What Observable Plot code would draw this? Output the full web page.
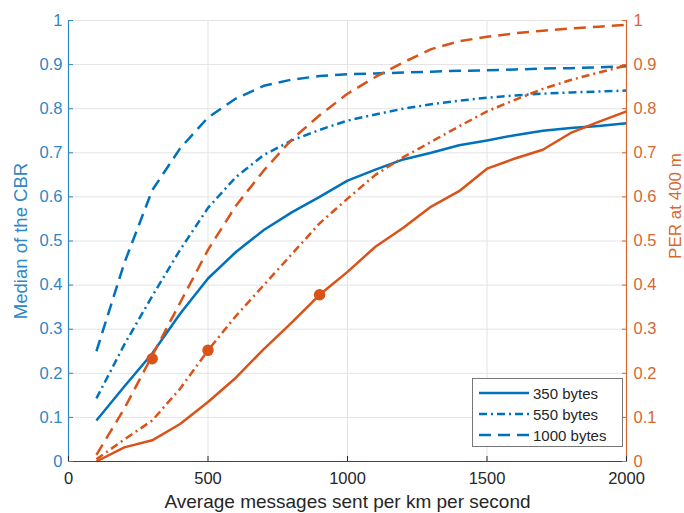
<!DOCTYPE html>
<html>
<head>
<meta charset="utf-8">
<script src="https://cdn.jsdelivr.net/npm/d3@7"></script>
<script src="https://cdn.jsdelivr.net/npm/@observablehq/plot@0.6"></script>
<style>
  html, body { margin: 0; padding: 0; background: #fff; }
  #wrap { position: relative; width: 684px; height: 513px; font-family: "Liberation Sans", Arial, sans-serif; }
  #legend { position: absolute; left: 472px; top: 378px; width: 151px; height: 69px; border: 1px solid #777; background: #fff; box-sizing: border-box; }
  #legend .row { position: absolute; left: 0; height: 20px; display: flex; align-items: center; }
  #legend .row span { font-size: 15px; color: #262626; margin-left: 4px; }
</style>
</head>
<body>
<div id="wrap"><div id="legend"></div></div>
<script>
// x values (messages / km / s)
const xValues = [100,200,300,400,500,600,700,800,900,1000,1100,1200,1300,1400,1500,1600,1700,1800,1900,2000];
// Median of the CBR (left axis)
const cbr350  = [0.093,0.17,0.245,0.335,0.415,0.475,0.525,0.565,0.60,0.637,0.662,0.685,0.70,0.717,0.728,0.74,0.75,0.756,0.761,0.767];
const cbr550  = [0.143,0.265,0.375,0.48,0.575,0.645,0.695,0.728,0.752,0.773,0.787,0.80,0.81,0.818,0.825,0.83,0.834,0.837,0.839,0.841];
const cbr1000 = [0.25,0.45,0.615,0.71,0.78,0.823,0.852,0.866,0.874,0.878,0.88,0.882,0.884,0.886,0.887,0.889,0.891,0.892,0.894,0.896];
// PER at 400 m (right axis)
const per350  = [0,0.032,0.048,0.085,0.135,0.19,0.255,0.315,0.378,0.43,0.487,0.53,0.578,0.613,0.664,0.687,0.707,0.745,0.77,0.794];
const per550  = [0.005,0.05,0.093,0.165,0.252,0.33,0.40,0.47,0.54,0.596,0.65,0.69,0.725,0.76,0.794,0.82,0.845,0.865,0.882,0.898];
const per1000 = [0.015,0.12,0.24,0.36,0.48,0.58,0.66,0.73,0.785,0.834,0.872,0.905,0.935,0.953,0.963,0.971,0.977,0.982,0.986,0.99];
// highlighted points
const markerX = [300,500,900];
const markerY = [0.233,0.252,0.378];
// ticks
const xTicks = [0,500,1000,1500,2000];
const yTicks = [0,0.1,0.2,0.3,0.4,0.5,0.6,0.7,0.8,0.9,1];
const legendLabels = ["350 bytes","550 bytes","1000 bytes"];

const BLUE = "#0072BD", ORANGE = "#D95319";
const BLUE_TXT = "#2f86c6", ORANGE_TXT = "#d8672f";
const DASH = {solid: null, dashdot: "8,4,2,4", dashed: "12,7"};

function toRows(vals) { return xValues.map((x, i) => ({x, y: vals[i]})); }
const series = [
  {vals: cbr350, color: BLUE, dash: DASH.solid},
  {vals: cbr550, color: BLUE, dash: DASH.dashdot},
  {vals: cbr1000, color: BLUE, dash: DASH.dashed},
  {vals: per350, color: ORANGE, dash: DASH.solid},
  {vals: per550, color: ORANGE, dash: DASH.dashdot},
  {vals: per1000, color: ORANGE, dash: DASH.dashed}
];
const markers = markerX.map((x, i) => ({x, y: markerY[i]}));
const font = "Liberation Sans, Arial, sans-serif";

const chart = Plot.plot({
  width: 684, height: 513,
  marginLeft: 68, marginRight: 58, marginTop: 20, marginBottom: 52,
  style: {fontFamily: font, fontSize: "16px", background: "#fff"},
  x: {domain: [0, 2000]},
  y: {domain: [0, 1]},
  marks: [
    Plot.gridX(xTicks.slice(1, -1), {stroke: "#e3e3e3", strokeOpacity: 1}),
    Plot.gridY(yTicks.slice(1), {stroke: "#e3e3e3", strokeOpacity: 1}),
    ...series.map(s => Plot.line(toRows(s.vals), {x: "x", y: "y", stroke: s.color, strokeWidth: 2.5, strokeDasharray: s.dash, strokeLinecap: "butt"})),
    Plot.dot(markers, {x: "x", y: "y", r: 5, fill: ORANGE, stroke: ORANGE}),
    Plot.ruleX([0], {stroke: BLUE_TXT, strokeWidth: 1.2}),
    Plot.ruleX([2000], {stroke: ORANGE_TXT, strokeWidth: 1.2}),
    Plot.ruleY([0], {stroke: "#444", strokeWidth: 1.2}),
    Plot.axisY(yTicks, {anchor: "left", tickSize: -5, tickPadding: 11, color: BLUE_TXT, fontSize: 16.5, label: null, tickFormat: d => String(d)}),
    Plot.axisY(yTicks, {anchor: "right", tickSize: -5, tickPadding: 12, color: ORANGE_TXT, fontSize: 16.5, label: null, tickFormat: d => String(d)}),
    Plot.axisX(xTicks, {anchor: "bottom", tickSize: -5, tickPadding: 16, color: "#262626", fontSize: 16.5, label: null, tickFormat: d => String(d)}),
    Plot.text(["Median of the CBR"], {frameAnchor: "left", textAnchor: "middle", rotate: -90, dx: -47, fill: BLUE_TXT, fontSize: 18.5}),
    Plot.text(["PER at 400 m"], {frameAnchor: "right", textAnchor: "middle", rotate: -90, dx: 49, dy: -35, fill: ORANGE_TXT, fontSize: 17}),
    Plot.text(["Average messages sent per km per second"], {frameAnchor: "bottom", dy: 46, fill: "#262626", fontSize: 19})
  ]
});
document.getElementById("wrap").prepend(chart);

// legend
const legend = document.getElementById("legend");
[DASH.solid, DASH.dashdot, DASH.dashed].forEach((dash, i) => {
  const row = document.createElement("div");
  row.className = "row";
  row.style.top = (4 + i * 21) + "px";
  const svg = d3.create("svg").attr("width", 56).attr("height", 20);
  svg.append("line").attr("x1", 6).attr("x2", 56).attr("y1", 10).attr("y2", 10)
    .attr("stroke", BLUE).attr("stroke-width", 2.5).attr("stroke-dasharray", dash);
  row.appendChild(svg.node());
  const t = document.createElement("span");
  t.textContent = legendLabels[i];
  row.appendChild(t);
  legend.appendChild(row);
});
</script>
</body>
</html>
